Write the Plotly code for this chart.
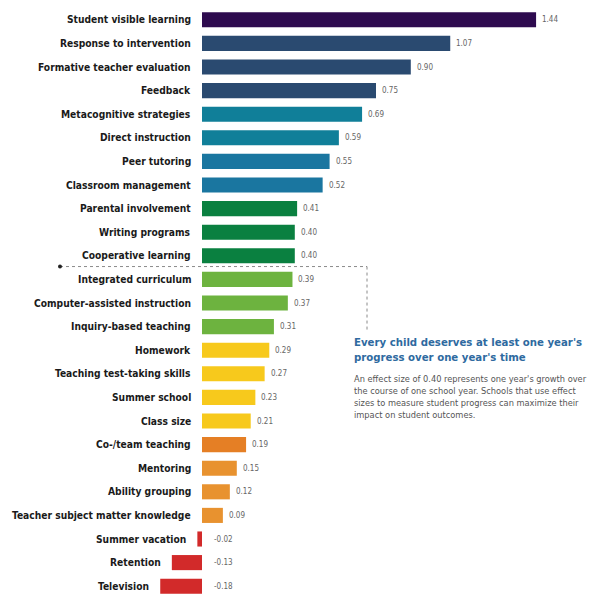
import plotly.graph_objects as go

categories = ["Student visible learning", "Response to intervention", "Formative teacher evaluation",
              "Feedback", "Metacognitive strategies", "Direct instruction", "Peer tutoring",
              "Classroom management", "Parental involvement", "Writing programs", "Cooperative learning",
              "Integrated curriculum", "Computer-assisted instruction", "Inquiry-based teaching",
              "Homework", "Teaching test-taking skills", "Summer school", "Class size",
              "Co-/team teaching", "Mentoring", "Ability grouping", "Teacher subject matter knowledge",
              "Summer vacation", "Retention", "Television"]
values = [1.44, 1.07, 0.90, 0.75, 0.69, 0.59, 0.55, 0.52, 0.41, 0.40, 0.40, 0.39, 0.37, 0.31,
          0.29, 0.27, 0.23, 0.21, 0.19, 0.15, 0.12, 0.09, -0.02, -0.13, -0.18]
value_labels = ["1.44", "1.07", "0.90", "0.75", "0.69", "0.59", "0.55", "0.52", "0.41", "0.40", "0.40",
                "0.39", "0.37", "0.31", "0.29", "0.27", "0.23", "0.21", "0.19", "0.15", "0.12", "0.09",
                "-0.02", "-0.13", "-0.18"]
colors = ["#2e0b4f", "#2a4a70", "#2a4a70", "#2a4a70", "#107f99", "#107f99", "#1a76a0", "#1a76a0",
          "#0a8040", "#0a8040", "#0a8040", "#6db33f", "#6db33f", "#6db33f",
          "#f7c91c", "#f7c91c", "#f7c91c", "#f7c91c", "#e57f25", "#e8922f", "#e8922f", "#e8922f",
          "#d22a2a", "#d22a2a", "#d22a2a"]

headline = "Every child deserves at least one year's<br>progress over one year's time"
body = ("An effect size of 0.40 represents one year's growth over<br>"
        "the course of one school year. Schools that use effect<br>"
        "sizes to measure student progress can maximize their<br>"
        "impact on student outcomes.")

# page body has an 8px margin, so the figure is drawn 8px smaller and shifted
OFF = 8
W, H = 600 - OFF, 599 - OFF
zero_px = 202 - OFF
px_per_unit = 232
x_range = [-zero_px / px_per_unit, (W - zero_px) / px_per_unit]

FONT = "DejaVu Sans Condensed, DejaVu Sans, sans-serif"

fig = go.Figure(go.Bar(
    x=values, y=categories, orientation="h",
    marker=dict(color=colors, line=dict(width=0)),
    hoverinfo="skip",
))

annotations = []
for cat, v, lab in zip(categories, values, value_labels):
    annotations.append(dict(x=min(v, 0), y=cat, xref="x", yref="y", text=cat, showarrow=False,
                            xanchor="right", xshift=-9,
                            font=dict(family=FONT, size=10.2, color="#1a1a1a", weight="bold")))
    annotations.append(dict(x=max(v, 0), y=cat, xref="x", yref="y", text=lab, showarrow=False,
                            xanchor="left", xshift=4 if v >= 0 else 10,
                            font=dict(family=FONT, size=8, color="#666666")))


def px(xp):
    return (xp - OFF) / W


def py(yp):
    return 1 - (yp - OFF) / H


annotations.append(dict(x=px(352), y=py(335), xref="paper", yref="paper", text=headline,
                        showarrow=False, xanchor="left", yanchor="top", align="left",
                        font=dict(family=FONT, size=11.3, color="#2e6aa0", weight="bold")))
annotations.append(dict(x=px(352), y=py(372), xref="paper", yref="paper", text=body,
                        showarrow=False, xanchor="left", yanchor="top", align="left",
                        font=dict(family=FONT, size=9.2, color="#555555")))

shapes = [
    dict(type="line", xref="paper", yref="paper", x0=px(60), x1=px(367), y0=py(267), y1=py(267),
         line=dict(color="#8a8a8a", width=1, dash="dot")),
    dict(type="line", xref="paper", yref="paper", x0=px(367), x1=px(367), y0=py(267), y1=py(331),
         line=dict(color="#8a8a8a", width=1, dash="dot")),
    dict(type="circle", xref="paper", yref="paper", x0=px(58), x1=px(62), y0=py(269), y1=py(265),
         fillcolor="#222222", line=dict(color="#222222", width=0)),
]

fig.update_layout(
    width=W, height=H,
    margin=dict(l=0, r=0, t=0, b=1),
    paper_bgcolor="white", plot_bgcolor="white",
    bargap=0.36,
    showlegend=False,
    xaxis=dict(range=x_range, visible=False, fixedrange=True),
    yaxis=dict(categoryorder="array", categoryarray=categories, autorange="reversed",
               visible=False, fixedrange=True),
    annotations=annotations,
    shapes=shapes,
)

fig.write_html("out.html")
